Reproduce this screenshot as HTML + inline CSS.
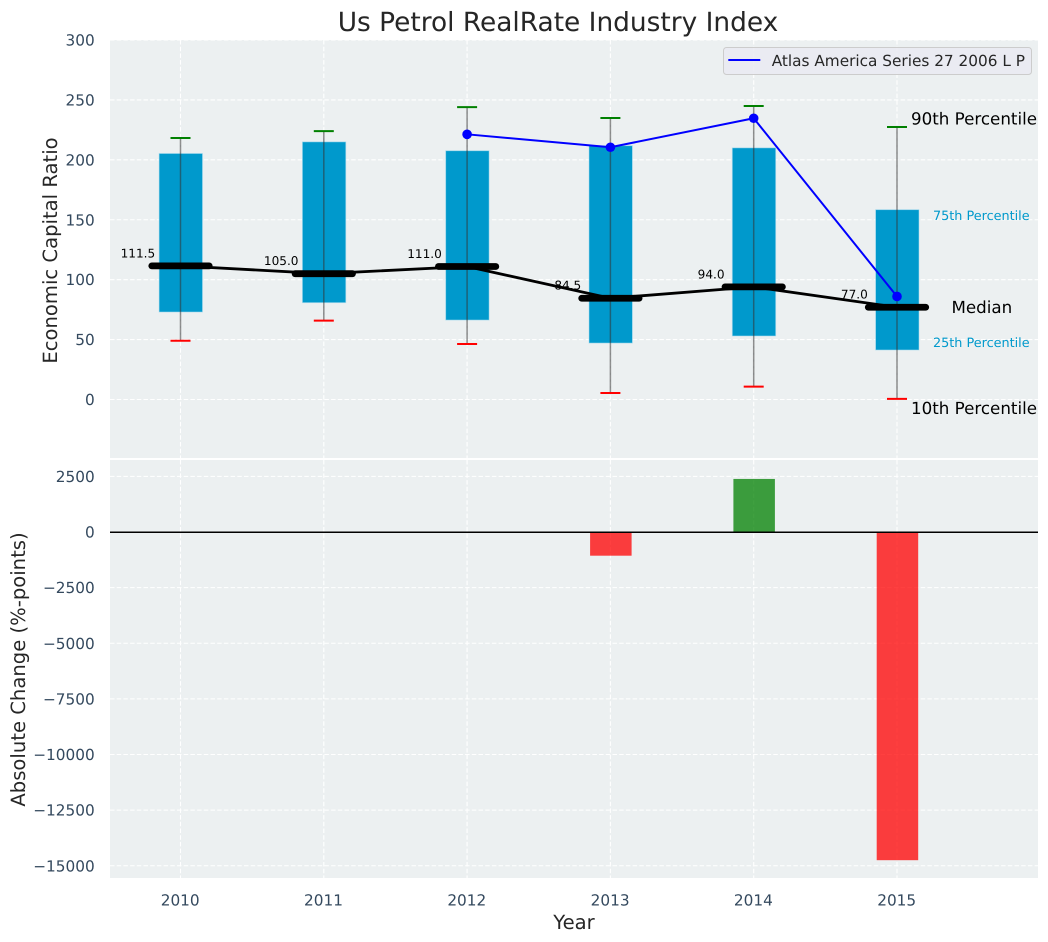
<!DOCTYPE html>
<html lang="en">
<head>
<meta charset="utf-8">
<title>Us Petrol RealRate Industry Index</title>
<style>
html,body{margin:0;padding:0;background:#fff;width:1048px;height:942px;overflow:hidden}
svg{display:block;font-family:"DejaVu Sans","Liberation Sans",sans-serif;text-rendering:geometricPrecision}
</style>
</head>
<body>
<svg id="chart" xmlns="http://www.w3.org/2000/svg" width="1048" height="942" viewBox="0 0 1048 942"></svg>
<script>
const years = [2010, 2011, 2012, 2013, 2014, 2015];
const p10 = [49, 65.8, 46.3, 5.4, 10.7, 0.5];
const p25 = [73, 80.8, 66.3, 47.1, 53, 41.3];
const median = [111.5, 105, 111, 84.5, 94, 77];
const p75 = [205.3, 215, 207.6, 211.8, 210, 158.4];
const p90 = [218.2, 224, 244, 234.9, 244.9, 227.4];
const fundYears = [2012, 2013, 2014, 2015];
const fundValues = [221.3, 210.5, 234.7, 86];
const changeYears = [2013, 2014, 2015];
const changeValues = [-1065, 2385, -14750];
const topTicks = [0, 50, 100, 150, 200, 250, 300];
const bottomTicks = [2500, 0, -2500, -5000, -7500, -10000, -12500, -15000];

const svg = document.getElementById('chart');
const NS = 'http://www.w3.org/2000/svg';
const plotLeft = 110, plotRight = 1038;
const topPanel = {top: 40, bottom: 458};
const bottomPanel = {top: 460, bottom: 878};

function x(year) { return 180.5 + (year - 2010) * 143.3; }
function yTop(v) { return 399.5 - v * 1.1983; }
function yBottom(v) { return 532 - v * 0.02225; }

function make(tag, attrs, parent, text) {
  const el = document.createElementNS(NS, tag);
  for (const k in attrs) el.setAttribute(k, attrs[k]);
  if (text !== undefined) el.textContent = text;
  (parent || svg).appendChild(el);
  return el;
}
function group(name) {
  const g = document.createElementNS(NS, 'g');
  
  
  svg.appendChild(g);
  return g;
}
function label(el, name) {
  
  
  return el;
}
function fmtTick(v) { return v < 0 ? '\u2212' + Math.abs(v) : String(v); }

const TICK = '#34495e', INK = '#262626', BLUE = '#0099cc';
const grid = 'stroke:#fff;stroke-width:1.1;stroke-dasharray:4.5 2.2;fill:none';

/* panels */
const panels = group('panels');
label(make('rect', {x: plotLeft, y: topPanel.top, width: plotRight - plotLeft, height: topPanel.bottom - topPanel.top, fill: '#ecf0f1'}, panels), 'top-panel-background');
label(make('rect', {x: plotLeft, y: bottomPanel.top, width: plotRight - plotLeft, height: bottomPanel.bottom - bottomPanel.top, fill: '#ecf0f1'}, panels), 'bottom-panel-background');

/* grid */
const gridG = group('gridlines');
years.forEach(function (yr) {
  label(make('line', {x1: x(yr), x2: x(yr), y1: topPanel.top, y2: topPanel.bottom, style: grid}, gridG), 'top-grid-x-' + yr);
  label(make('line', {x1: x(yr), x2: x(yr), y1: bottomPanel.top, y2: bottomPanel.bottom, style: grid}, gridG), 'bottom-grid-x-' + yr);
});
topTicks.forEach(function (t) {
  label(make('line', {x1: plotLeft, x2: plotRight, y1: yTop(t), y2: yTop(t), style: grid}, gridG), 'top-grid-y-' + t);
});
bottomTicks.forEach(function (t) {
  label(make('line', {x1: plotLeft, x2: plotRight, y1: yBottom(t), y2: yBottom(t), style: grid}, gridG), 'bottom-grid-y-' + t);
});

/* boxes */
const boxes = group('percentile-boxes');
years.forEach(function (yr, i) {
  label(make('rect', {x: x(yr) - 21.4, y: yTop(p75[i]), width: 43.4, height: yTop(p25[i]) - yTop(p75[i]), fill: BLUE, stroke: '#a9dcee', 'stroke-width': 0.8, 'stroke-opacity': 0.7}, boxes), 'box-' + yr);
});

/* whiskers */
const whiskers = group('whiskers');
years.forEach(function (yr, i) {
  label(make('line', {x1: x(yr), x2: x(yr), y1: yTop(p90[i]), y2: yTop(p10[i]), stroke: '#333', 'stroke-width': 1.5, 'stroke-opacity': 0.55}, whiskers), 'whisker-' + yr);
  label(make('line', {x1: x(yr) - 10, x2: x(yr) + 10, y1: yTop(p90[i]), y2: yTop(p90[i]), stroke: 'green', 'stroke-width': 2}, whiskers), 'p90-cap-' + yr);
  label(make('line', {x1: x(yr) - 10, x2: x(yr) + 10, y1: yTop(p10[i]), y2: yTop(p10[i]), stroke: 'red', 'stroke-width': 2}, whiskers), 'p10-cap-' + yr);
});

/* median value labels sit beneath the trend line */
const medianLabels = group('median-value-labels');
years.forEach(function (yr, i) {
  label(make('text', {x: x(yr) - 42.6, y: yTop(median[i]) - 8.5, 'text-anchor': 'middle', 'font-size': 12.1, fill: '#000'}, medianLabels, median[i].toFixed(1)), 'median-value-' + yr);
});

/* median trend line + bars */
const medians = group('median-series');
label(make('polyline', {points: years.map(function (yr, i) { return x(yr) + ',' + yTop(median[i]); }).join(' '), fill: 'none', stroke: '#000', 'stroke-width': 2.8}, medians), 'median-trend-line');
years.forEach(function (yr, i) {
  label(make('line', {x1: x(yr) - 28.7, x2: x(yr) + 28.7, y1: yTop(median[i]), y2: yTop(median[i]), stroke: '#000', 'stroke-width': 6.8, 'stroke-linecap': 'round'}, medians), 'median-bar-' + yr);
});

/* fund series */
const fund = group('fund-series');
label(make('polyline', {points: fundYears.map(function (yr, i) { return x(yr) + ',' + yTop(fundValues[i]); }).join(' '), fill: 'none', stroke: '#0000ff', 'stroke-width': 2}, fund), 'fund-line');
fundYears.forEach(function (yr, i) {
  label(make('circle', {cx: x(yr), cy: yTop(fundValues[i]), r: 4.8, fill: '#0000ff'}, fund), 'fund-point-' + yr);
});

/* percentile annotations for the last year */
const notes = group('percentile-annotations');
const last = years.length - 1;
const noteX = x(years[last]);
label(make('text', {x: noteX + 14, y: yTop(p90[last] + 2.2), 'font-size': 16.7, fill: '#000'}, notes, '90th Percentile'), 'annotation-90th-percentile');
label(make('text', {x: noteX + 36, y: yTop(p75[last] - 8.6), 'font-size': 12.8, fill: '#0099cc'}, notes, '75th Percentile'), 'annotation-75th-percentile');
label(make('text', {x: noteX + 54.5, y: yTop(median[last]) + 5.7, 'font-size': 16.7, fill: '#000'}, notes, 'Median'), 'annotation-median');
label(make('text', {x: noteX + 36, y: yTop(p25[last] + 2.5), 'font-size': 12.8, fill: '#0099cc'}, notes, '25th Percentile'), 'annotation-25th-percentile');
label(make('text', {x: noteX + 14, y: yTop(p10[last] - 12.8), 'font-size': 16.7, fill: '#000'}, notes, '10th Percentile'), 'annotation-10th-percentile');

/* change bars */
const changes = group('absolute-change-bars');
changeYears.forEach(function (yr, i) {
  const v = changeValues[i];
  const y0 = Math.min(yBottom(0), yBottom(v));
  const h = Math.abs(yBottom(v) - yBottom(0));
  label(make('rect', {x: x(yr) - 20.3, y: y0, width: 41.5, height: h, fill: v < 0 ? '#ff0000' : '#008000', 'fill-opacity': 0.75}, changes), 'change-bar-' + yr);
});
label(make('line', {x1: plotLeft, x2: plotRight, y1: yBottom(0) + 0.2, y2: yBottom(0) + 0.2, stroke: '#000', 'stroke-width': 1.5}, changes), 'zero-line');

/* tick labels */
const ticks = group('tick-labels');
topTicks.forEach(function (t) {
  label(make('text', {x: 94.7, y: yTop(t) + 5.5, 'text-anchor': 'end', 'font-size': 15.3, fill: TICK}, ticks, fmtTick(t)), 'top-y-tick-' + t);
});
bottomTicks.forEach(function (t) {
  label(make('text', {x: 94.7, y: yBottom(t) + 5.5, 'text-anchor': 'end', 'font-size': 15.3, fill: TICK}, ticks, fmtTick(t)), 'bottom-y-tick-' + t);
});
years.forEach(function (yr) {
  label(make('text', {x: x(yr) - 0.3, y: 905.5, 'text-anchor': 'middle', 'font-size': 15.3, fill: TICK}, ticks, String(yr)), 'x-tick-' + yr);
});

/* titles */
label(make('text', {x: 558, y: 31, 'text-anchor': 'middle', 'font-size': 26.4, fill: INK}, svg, 'Us Petrol RealRate Industry Index'), 'chart-title');
label(make('text', {x: 574, y: 929, 'text-anchor': 'middle', 'font-size': 19.6, fill: INK}, svg, 'Year'), 'x-axis-title');
label(make('text', {x: 0, y: 0, 'text-anchor': 'middle', 'font-size': 19.6, fill: INK, transform: 'translate(57,250.5) rotate(-90)'}, svg, 'Economic Capital Ratio'), 'top-y-axis-title');
label(make('text', {x: 0, y: 0, 'text-anchor': 'middle', 'font-size': 19.6, fill: INK, transform: 'translate(25,669.5) rotate(-90)'}, svg, 'Absolute Change (%-points)'), 'bottom-y-axis-title');

/* legend */
const legend = group('legend');
label(make('rect', {x: 723.5, y: 47.5, width: 308, height: 27, rx: 3, fill: '#eaeaf2', 'fill-opacity': 0.85, stroke: '#cccccc', 'stroke-width': 1}, legend), 'legend-box');
label(make('line', {x1: 728.3, x2: 760.3, y1: 60, y2: 60, stroke: '#0000ff', 'stroke-width': 2}, legend), 'legend-line');
label(make('text', {x: 771.7, y: 66, 'font-size': 15.3, fill: INK}, legend, 'Atlas America Series 27 2006 L P'), 'legend-label');
</script>
</body>
</html>
